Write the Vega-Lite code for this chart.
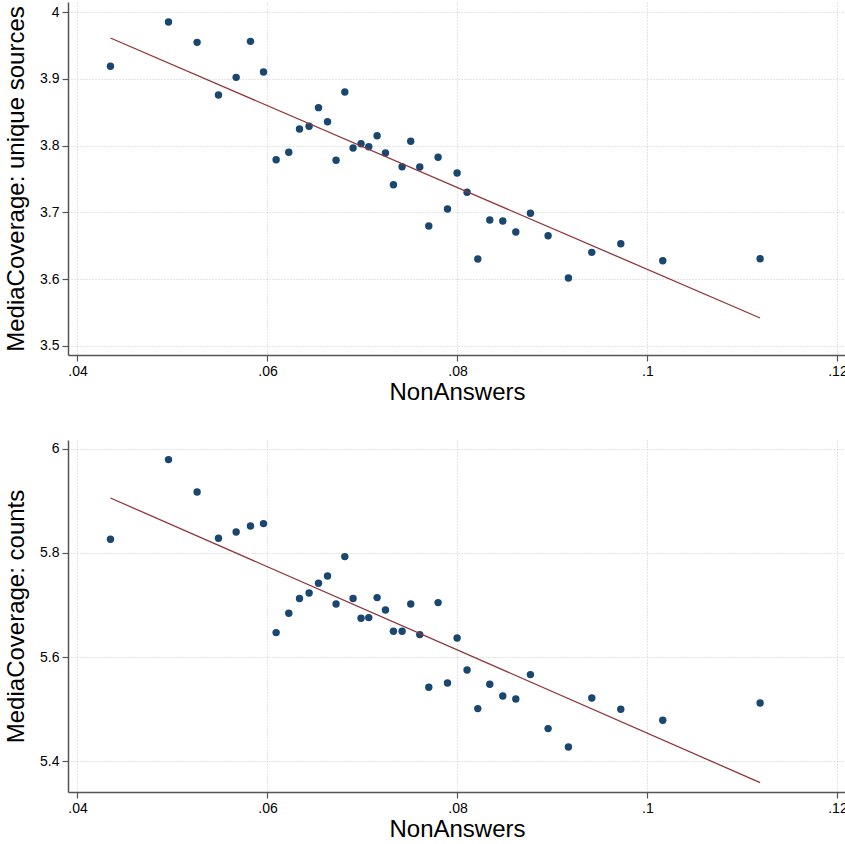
{
  "$schema": "https://vega.github.io/schema/vega-lite/v6.json",
  "padding": {"left": 4, "top": 2, "right": 0, "bottom": 0},
  "background": "white",
  "spacing": 36,
  "config": {
    "view": {"stroke": null},
    "font": "Liberation Sans",
    "axis": {
      "domainColor": "#555555",
      "domainWidth": 1.5,
      "tickColor": "#555555",
      "tickSize": 6,
      "tickWidth": 1.2,
      "labelFont": "Liberation Sans",
      "labelFontSize": 14,
      "labelColor": "#000000",
      "labelPadding": 3,
      "titleFont": "Liberation Sans",
      "titleFontSize": 24,
      "titleFontWeight": "normal",
      "titleColor": "#000000",
      "gridColor": "#c8c8c8",
      "gridDash": [1, 2],
      "gridWidth": 1
    }
  },
  "datasets": {
    "pts": [
      {"na": 0.04347, "unique": 3.9187, "counts": 5.8261},
      {"na": 0.04958, "unique": 3.985, "counts": 5.9789},
      {"na": 0.05259, "unique": 3.9546, "counts": 5.9168},
      {"na": 0.05484, "unique": 3.8757, "counts": 5.828},
      {"na": 0.0567, "unique": 3.9022, "counts": 5.84},
      {"na": 0.05821, "unique": 3.9561, "counts": 5.8516},
      {"na": 0.05958, "unique": 3.9102, "counts": 5.8562},
      {"na": 0.06091, "unique": 3.7789, "counts": 5.6472},
      {"na": 0.06224, "unique": 3.79, "counts": 5.6842},
      {"na": 0.06337, "unique": 3.8249, "counts": 5.7124},
      {"na": 0.06438, "unique": 3.8289, "counts": 5.7231},
      {"na": 0.06537, "unique": 3.8568, "counts": 5.7417},
      {"na": 0.06632, "unique": 3.8358, "counts": 5.7557},
      {"na": 0.06722, "unique": 3.778, "counts": 5.702},
      {"na": 0.06814, "unique": 3.8802, "counts": 5.7929},
      {"na": 0.06901, "unique": 3.7964, "counts": 5.7124},
      {"na": 0.06985, "unique": 3.8029, "counts": 5.6746},
      {"na": 0.07066, "unique": 3.7984, "counts": 5.6759},
      {"na": 0.07154, "unique": 3.8148, "counts": 5.7143},
      {"na": 0.07242, "unique": 3.7889, "counts": 5.6905},
      {"na": 0.07326, "unique": 3.7415, "counts": 5.6497},
      {"na": 0.07417, "unique": 3.7684, "counts": 5.6497},
      {"na": 0.07508, "unique": 3.8064, "counts": 5.702},
      {"na": 0.07603, "unique": 3.768, "counts": 5.6433},
      {"na": 0.07698, "unique": 3.6796, "counts": 5.5423},
      {"na": 0.07796, "unique": 3.7825, "counts": 5.7047},
      {"na": 0.07895, "unique": 3.7051, "counts": 5.5505},
      {"na": 0.07996, "unique": 3.759, "counts": 5.6368},
      {"na": 0.08101, "unique": 3.7301, "counts": 5.5755},
      {"na": 0.08214, "unique": 3.6302, "counts": 5.5014},
      {"na": 0.0834, "unique": 3.6886, "counts": 5.548},
      {"na": 0.08477, "unique": 3.6871, "counts": 5.5256},
      {"na": 0.08614, "unique": 3.6707, "counts": 5.5199},
      {"na": 0.08768, "unique": 3.6986, "counts": 5.5666},
      {"na": 0.08954, "unique": 3.6651, "counts": 5.4631},
      {"na": 0.09168, "unique": 3.6018, "counts": 5.4278},
      {"na": 0.09414, "unique": 3.6402, "counts": 5.5218},
      {"na": 0.09719, "unique": 3.6531, "counts": 5.5001},
      {"na": 0.10161, "unique": 3.6277, "counts": 5.479},
      {"na": 0.11186, "unique": 3.6307, "counts": 5.5122}
    ],
    "fit": [
      {"na": 0.04347, "unique": 3.9611, "counts": 5.9053},
      {"na": 0.11186, "unique": 3.5419, "counts": 5.3595}
    ]
  },
  "vconcat": [
    {
      "width": 778,
      "height": 353,
      "layer": [
        {
          "data": {"name": "pts"},
          "mark": {"type": "point", "filled": true, "shape": "circle", "size": 55, "color": "#1a476f", "opacity": 1},
          "encoding": {
            "x": {"field": "na", "type": "quantitative", "title": "NonAnswers",
                  "scale": {"domain": [0.039, 0.1209], "nice": false, "zero": false},
                  "axis": {"values": [0.04, 0.06, 0.08, 0.1, 0.12], "labelExpr": "replace(format(datum.value, '.2~f'), '0.', '.')", "titlePadding": 2}},
            "y": {"field": "unique", "type": "quantitative", "title": "MediaCoverage: unique sources",
                  "scale": {"domain": [3.4865, 4.015], "nice": false, "zero": false},
                  "axis": {"values": [3.5, 3.6, 3.7, 3.8, 3.9, 4.0], "format": ".1~f", "titlePadding": 11}}
          }
        },
        {
          "data": {"name": "fit"},
          "mark": {"type": "line", "color": "#90353b", "strokeWidth": 1.3},
          "encoding": {
            "x": {"field": "na", "type": "quantitative"},
            "y": {"field": "unique", "type": "quantitative"}
          }
        }
      ]
    },
    {
      "width": 778,
      "height": 352,
      "layer": [
        {
          "data": {"name": "pts"},
          "mark": {"type": "point", "filled": true, "shape": "circle", "size": 55, "color": "#1a476f", "opacity": 1},
          "encoding": {
            "x": {"field": "na", "type": "quantitative", "title": "NonAnswers",
                  "scale": {"domain": [0.039, 0.1209], "nice": false, "zero": false},
                  "axis": {"values": [0.04, 0.06, 0.08, 0.1, 0.12], "labelExpr": "replace(format(datum.value, '.2~f'), '0.', '.')", "titlePadding": 2}},
            "y": {"field": "counts", "type": "quantitative", "title": "MediaCoverage: counts",
                  "scale": {"domain": [5.3415, 6.0165], "nice": false, "zero": false},
                  "axis": {"values": [5.4, 5.6, 5.8, 6.0], "format": ".1~f", "titlePadding": 11}}
          }
        },
        {
          "data": {"name": "fit"},
          "mark": {"type": "line", "color": "#90353b", "strokeWidth": 1.3},
          "encoding": {
            "x": {"field": "na", "type": "quantitative"},
            "y": {"field": "counts", "type": "quantitative"}
          }
        }
      ]
    }
  ]
}
